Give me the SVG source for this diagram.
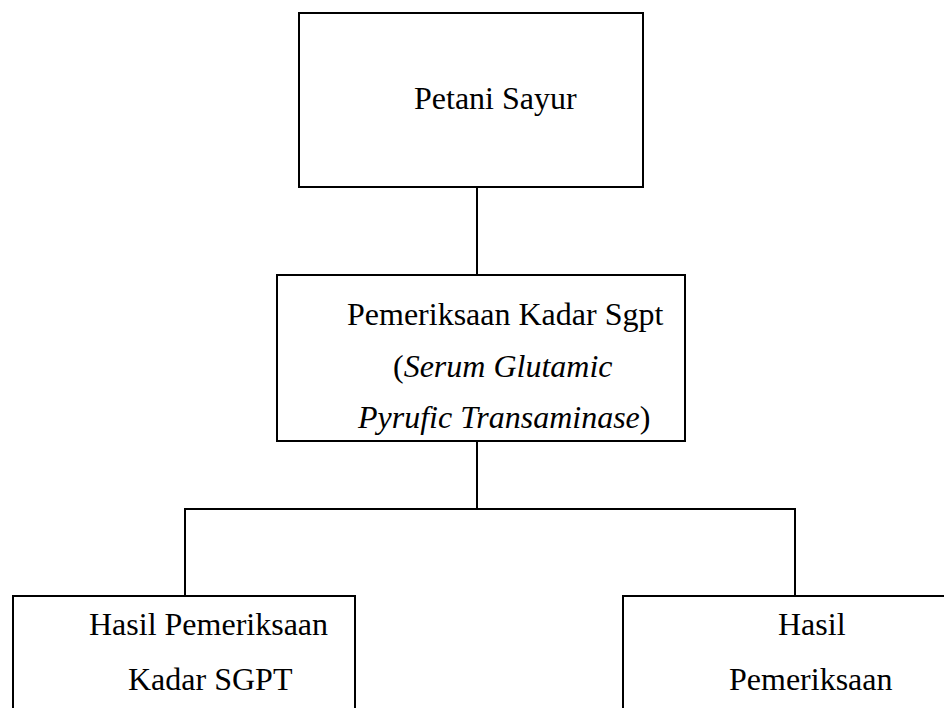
<svg xmlns="http://www.w3.org/2000/svg" width="944" height="708" viewBox="0 0 944 708">
<style>
.box{fill:#fff;stroke:#000;stroke-width:2}
.ln{fill:none;stroke:#000;stroke-width:2}
text{font-family:"Liberation Serif","Times New Roman",serif;font-size:32px;fill:#000}
.it{font-style:italic}
</style>
<rect width="944" height="708" fill="#fff"/>
<g id="connectors">
<line class="ln" x1="477" y1="187" x2="477" y2="275"/>
<line class="ln" x1="477" y1="442" x2="477" y2="509"/>
<polyline class="ln" points="185,596 185,509 795,509 795,596"/>
</g>
<g id="petani">
<rect class="box" x="299" y="13" width="344" height="174"/>
<text x="414" y="109">Petani Sayur</text>
</g>
<g id="pemeriksaan">
<rect class="box" x="277" y="275" width="408" height="166"/>
<text x="347" y="325">Pemeriksaan Kadar Sgpt</text>
<text x="393" y="377">(<tspan class="it">Serum Glutamic</tspan></text>
<text x="358" y="428"><tspan class="it">Pyrufic Transaminase</tspan>)</text>
</g>
<g id="hasil-kiri">
<rect class="box" x="13" y="596" width="342" height="140"/>
<text x="89" y="635">Hasil Pemeriksaan</text>
<text x="128" y="690">Kadar SGPT</text>
</g>
<g id="hasil-kanan">
<rect class="box" x="623" y="596" width="340" height="140"/>
<text x="778" y="635">Hasil</text>
<text x="729" y="690">Pemeriksaan</text>
</g>
</svg>
